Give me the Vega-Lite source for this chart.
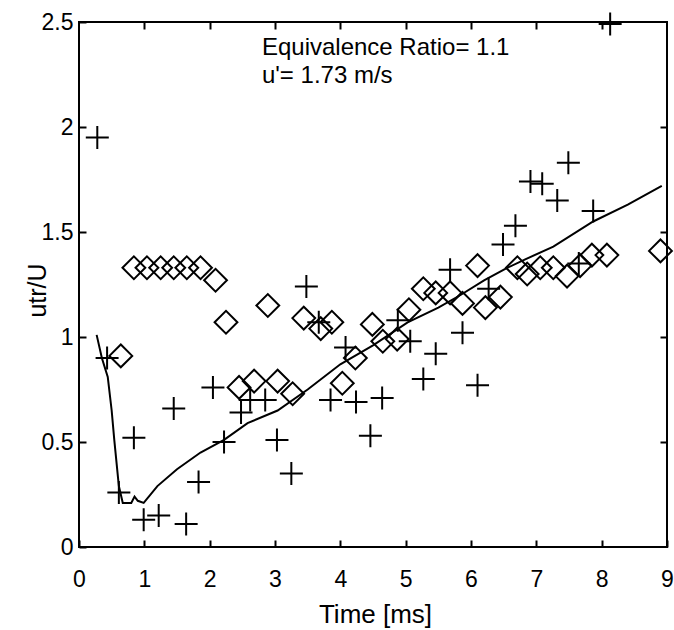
{
  "$schema": "https://vega.github.io/schema/vega-lite/v6.json",
  "autosize": {"type": "none"},
  "width": 588,
  "height": 525,
  "padding": {"left": 79, "top": 22, "right": 7, "bottom": 83},
  "background": "white",
  "config": {"view": {"stroke": "black", "strokeWidth": 2}, "font": "Liberation Sans"},
  "datasets": {
    "fit": [
      {"t": 0.27, "v": 1.01}, {"t": 0.35, "v": 0.9}, {"t": 0.44, "v": 0.81}, {"t": 0.5, "v": 0.65},
      {"t": 0.54, "v": 0.51}, {"t": 0.61, "v": 0.29}, {"t": 0.67, "v": 0.21}, {"t": 0.8, "v": 0.21},
      {"t": 0.85, "v": 0.24}, {"t": 0.9, "v": 0.22}, {"t": 0.99, "v": 0.21}, {"t": 1.2, "v": 0.29},
      {"t": 1.5, "v": 0.37}, {"t": 1.86, "v": 0.45}, {"t": 2.22, "v": 0.51}, {"t": 2.58, "v": 0.59}, {"t": 3.04, "v": 0.65},
      {"t": 3.5, "v": 0.75}, {"t": 4.0, "v": 0.87}, {"t": 4.5, "v": 0.96}, {"t": 5.03, "v": 1.07},
      {"t": 5.5, "v": 1.14}, {"t": 5.84, "v": 1.2}, {"t": 6.2, "v": 1.27}, {"t": 6.56, "v": 1.33},
      {"t": 6.83, "v": 1.37}, {"t": 7.26, "v": 1.43}, {"t": 7.87, "v": 1.55}, {"t": 8.4, "v": 1.63},
      {"t": 8.92, "v": 1.72}
    ],
    "diamond": [
      {"t": 0.64, "v": 0.91}, {"t": 0.84, "v": 1.33}, {"t": 1.04, "v": 1.33}, {"t": 1.25, "v": 1.33},
      {"t": 1.45, "v": 1.33}, {"t": 1.65, "v": 1.33}, {"t": 1.86, "v": 1.33}, {"t": 2.09, "v": 1.27},
      {"t": 2.25, "v": 1.07}, {"t": 2.89, "v": 1.15}, {"t": 2.45, "v": 0.76}, {"t": 2.68, "v": 0.79},
      {"t": 3.04, "v": 0.79}, {"t": 3.27, "v": 0.73}, {"t": 3.44, "v": 1.09}, {"t": 3.7, "v": 1.04},
      {"t": 3.87, "v": 1.07}, {"t": 4.03, "v": 0.78}, {"t": 4.23, "v": 0.9}, {"t": 4.49, "v": 1.06},
      {"t": 4.65, "v": 0.98}, {"t": 4.87, "v": 0.99}, {"t": 5.05, "v": 1.13}, {"t": 5.27, "v": 1.23},
      {"t": 5.46, "v": 1.21}, {"t": 5.68, "v": 1.21}, {"t": 5.87, "v": 1.16}, {"t": 6.1, "v": 1.34},
      {"t": 6.22, "v": 1.14}, {"t": 6.45, "v": 1.19}, {"t": 6.71, "v": 1.33}, {"t": 6.86, "v": 1.3},
      {"t": 7.06, "v": 1.33}, {"t": 7.26, "v": 1.33}, {"t": 7.47, "v": 1.29}, {"t": 7.67, "v": 1.34},
      {"t": 7.85, "v": 1.39}, {"t": 8.08, "v": 1.39}, {"t": 8.9, "v": 1.41}
    ],
    "plus": [
      {"t": 0.28, "v": 1.95}, {"t": 0.43, "v": 0.9}, {"t": 0.61, "v": 0.26}, {"t": 0.84, "v": 0.52},
      {"t": 0.99, "v": 0.13}, {"t": 1.22, "v": 0.15}, {"t": 1.45, "v": 0.66}, {"t": 1.64, "v": 0.11},
      {"t": 1.83, "v": 0.31}, {"t": 2.05, "v": 0.76}, {"t": 2.22, "v": 0.5}, {"t": 2.48, "v": 0.64},
      {"t": 2.62, "v": 0.7}, {"t": 2.85, "v": 0.7}, {"t": 3.03, "v": 0.51}, {"t": 3.25, "v": 0.35},
      {"t": 3.48, "v": 1.24}, {"t": 3.67, "v": 1.07}, {"t": 3.85, "v": 0.7}, {"t": 4.08, "v": 0.95},
      {"t": 4.24, "v": 0.69}, {"t": 4.46, "v": 0.53}, {"t": 4.64, "v": 0.71}, {"t": 4.88, "v": 1.08},
      {"t": 5.07, "v": 0.98}, {"t": 5.27, "v": 0.8}, {"t": 5.46, "v": 0.92}, {"t": 5.68, "v": 1.32},
      {"t": 5.87, "v": 1.02}, {"t": 6.1, "v": 0.77}, {"t": 6.27, "v": 1.23}, {"t": 6.49, "v": 1.44},
      {"t": 6.68, "v": 1.53}, {"t": 6.91, "v": 1.74}, {"t": 7.09, "v": 1.73}, {"t": 7.32, "v": 1.65},
      {"t": 7.49, "v": 1.83}, {"t": 7.65, "v": 1.35}, {"t": 7.87, "v": 1.6}, {"t": 8.13, "v": 2.49}
    ],
    "note": [
      {"t": 2.8, "v": 2.343, "label": "Equivalence Ratio= 1.1"},
      {"t": 2.8, "v": 2.21, "label": "u'= 1.73 m/s"}
    ]
  },
  "layer": [
    {
      "data": {"name": "fit"},
      "mark": {"type": "line", "color": "black", "strokeWidth": 2},
      "encoding": {
        "x": {"field": "t", "type": "quantitative", "scale": {"domain": [0, 9], "nice": false, "zero": false},
          "axis": {"orient": "bottom", "values": [0, 1, 2, 3, 4, 5, 6, 7, 8, 9], "ticks": true, "tickSize": -7, "tickColor": "black", "tickWidth": 2,
            "labelPadding": 28, "labelFontSize": 23, "labelColor": "black", "labelFlush": false, "grid": false, "domain": false,
            "title": "Time [ms]", "titleFontSize": 26, "titleFontWeight": "normal", "titleColor": "black",
            "titleX": 296, "titleY": 75, "titleBaseline": "alphabetic"}},
        "y": {"field": "v", "type": "quantitative", "scale": {"domain": [0, 2.5], "nice": false, "zero": false},
          "axis": {"orient": "left", "values": [0, 0.5, 1, 1.5, 2, 2.5], "format": "~g", "ticks": true, "tickSize": -7, "tickColor": "black", "tickWidth": 2,
            "labelPadding": 13, "labelFontSize": 23, "labelColor": "black", "labelFlush": false, "grid": false, "domain": false,
            "title": "utr/U", "titleFontSize": 25, "titleFontWeight": "normal", "titleColor": "black",
            "titleX": -42, "titleY": 268, "titleBaseline": "middle", "titleAngle": -90}}
      }
    },
    {
      "data": {"name": "diamond"},
      "mark": {"type": "point", "shape": "diamond", "filled": false, "stroke": "black", "strokeWidth": 2, "size": 520, "opacity": 1},
      "encoding": {
        "x": {"field": "t", "type": "quantitative",
          "axis": {"orient": "top", "values": [1, 2, 3, 4, 5, 6, 7, 8], "ticks": true, "tickSize": -7, "tickColor": "black", "tickWidth": 2,
            "labels": false, "grid": false, "domain": false, "title": null}},
        "y": {"field": "v", "type": "quantitative",
          "axis": {"orient": "right", "values": [0.5, 1, 1.5, 2], "ticks": true, "tickSize": -7, "tickColor": "black", "tickWidth": 2,
            "labels": false, "grid": false, "domain": false, "title": null}}
      }
    },
    {
      "data": {"name": "plus"},
      "mark": {"type": "point", "shape": "M-1,0L1,0M0,-1L0,1", "filled": false, "stroke": "black", "strokeWidth": 2, "size": 529, "opacity": 1},
      "encoding": {
        "x": {"field": "t", "type": "quantitative", "axis": null},
        "y": {"field": "v", "type": "quantitative", "axis": null}
      }
    },
    {
      "data": {"name": "note"},
      "mark": {"type": "text", "align": "left", "baseline": "alphabetic", "fontSize": 24, "color": "black"},
      "encoding": {
        "x": {"field": "t", "type": "quantitative", "axis": null},
        "y": {"field": "v", "type": "quantitative", "axis": null},
        "text": {"field": "label"}
      }
    }
  ],
  "resolve": {"axis": {"x": "independent", "y": "independent"}}
}
